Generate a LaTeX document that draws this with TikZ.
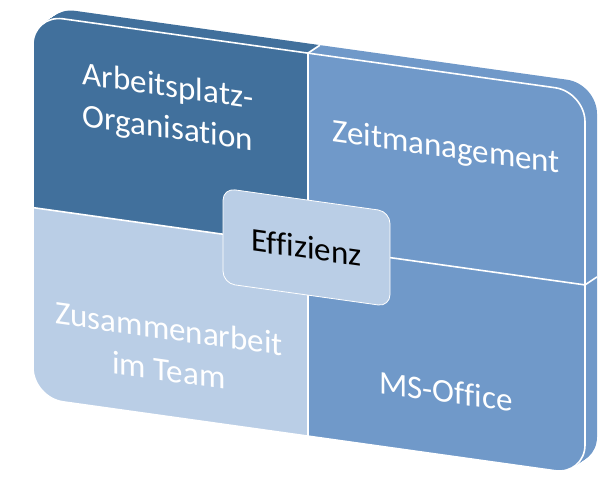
\documentclass[tikz,border=0pt]{standalone}
\usepackage{fontspec}
\setmainfont{Carlito}[Ligatures={NoCommon}]
\definecolor{dk}{HTML}{41709C}
\definecolor{md}{HTML}{7099C9}
\definecolor{lt}{HTML}{BACEE6}
\newcommand{\pTL}{(33,-203) -- (33,-40) arc[start angle=180,end angle=90,radius=30] -- (308,-10) -- (308,-203) -- cycle}
\newcommand{\pTR}{(308,-203) -- (308,-10) -- (555,-10) arc[start angle=90,end angle=0,radius=30] -- (585,-203) -- cycle}
\newcommand{\pBR}{(308,-203) -- (585,-203) -- (585,-363) arc[start angle=0,end angle=-90,radius=30] -- (308,-393) -- cycle}
\newcommand{\pBL}{(308,-203) -- (308,-393) -- (63,-393) arc[start angle=270,end angle=180,radius=30] -- (33,-203) -- cycle}
\tikzset{
  lbl/.style={text=white, font=\fontsize{33}{42}\selectfont, transform shape, inner sep=0pt},
  sep/.style={draw=white, line width=1.6pt},
  centerbox/.style={draw=white, line width=0.8pt, fill=lt, rounded corners=12pt,
    minimum width=167pt, minimum height=95pt, transform shape, text=black,
    font=\fontsize{33}{42}\selectfont, inner sep=0pt}
}
\begin{document}
\begin{tikzpicture}[x=1pt,y=1pt]
\useasboundingbox (0,0) rectangle (602,-477);
\begin{scope}[cm={1,-0.14,0,1,(0,0)}]
  % extrusion (swept back copies)
  \foreach \s in {12,11,...,1} {
    \begin{scope}[shift={(\s,{0.807*\s})}]
      \fill[dk] \pTL;
      \fill[md] \pTR;
      \fill[md] \pBR;
      \fill[lt] \pBL;
    \end{scope}
  }
  % front face
  \fill[dk] \pTL;
  \fill[md] \pTR;
  \fill[md] \pBR;
  \fill[lt] \pBL;
  \draw[sep] (33,-363) -- (33,-40) arc[start angle=180,end angle=90,radius=30]
    -- (555,-10) arc[start angle=90,end angle=0,radius=30]
    -- (585,-363) arc[start angle=0,end angle=-90,radius=30]
    -- (63,-393) arc[start angle=270,end angle=180,radius=30] -- cycle;
  \coordinate (mt) at (308,-10);
  \coordinate (mb) at (308,-393);
  \coordinate (ml) at (33,-203);
  \coordinate (mr) at (585,-203);
  \draw[sep] (mt) -- (mb);
  \draw[sep] (ml) -- (mr);
  \draw[sep] (mt) -- ++(12,9.68);
  \draw[sep] (mr) -- ++(12,9.68);
  % labels
  \node[lbl, anchor=base] (tl) at (168,-73) {\begin{tabular}[t]{@{}c@{}}Arbeitsplatz-\\Organisation\end{tabular}};
  \node[lbl, anchor=base] (tr) at (446,-95) {Zeitmanagement};
  \node[lbl, anchor=base] (bl) at (169,-316) {\begin{tabular}[t]{@{}c@{}}Zusammenarbeit\\im Team\end{tabular}};
  \node[lbl, anchor=base] (br) at (446,-340) {MS-Office};
  \node[centerbox] (eff) at (306.5,-204.5) {Effizienz};
\end{scope}
\end{tikzpicture}
\end{document}
